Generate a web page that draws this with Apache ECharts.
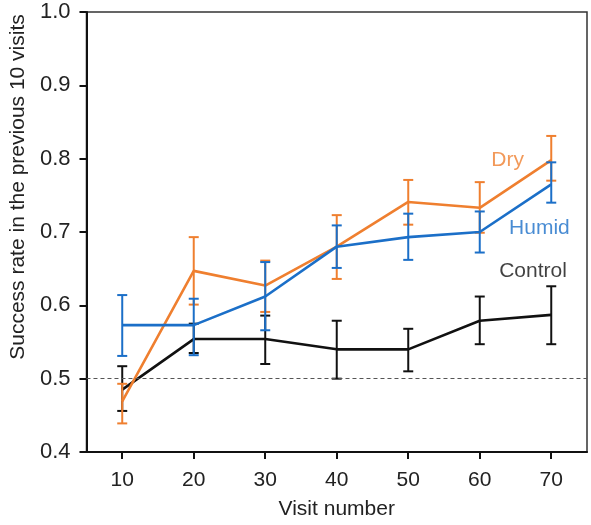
<!DOCTYPE html>
<html>
<head>
<meta charset="utf-8">
<script src="https://cdn.jsdelivr.net/npm/echarts@6/dist/echarts.min.js"></script>
<style>
html,body{margin:0;padding:0;background:#fff;}
#chart{width:591px;height:525px;}
</style>
</head>
<body>
<div id="chart"></div>
<script>
// ---- data ----
const visits = [10, 20, 30, 40, 50, 60, 70];
const controlMean = [0.485, 0.554, 0.554, 0.540, 0.540, 0.579, 0.587];
const controlLow  = [0.456, 0.535, 0.520, 0.500, 0.510, 0.547, 0.547];
const controlHigh = [0.517, 0.575, 0.586, 0.579, 0.568, 0.612, 0.626];
const dryMean = [0.469, 0.647, 0.627, 0.680, 0.741, 0.733, 0.798];
const dryLow  = [0.439, 0.601, 0.591, 0.636, 0.710, 0.699, 0.770];
const dryHigh = [0.493, 0.693, 0.661, 0.723, 0.771, 0.768, 0.831];
const humidMean = [0.573, 0.573, 0.612, 0.680, 0.693, 0.700, 0.765];
const humidLow  = [0.531, 0.532, 0.566, 0.651, 0.662, 0.672, 0.740];
const humidHigh = [0.614, 0.609, 0.659, 0.709, 0.725, 0.728, 0.795];
const yTicks = [0.4, 0.5, 0.6, 0.7, 0.8, 0.9, 1.0];
const chanceLevel = 0.5;
const labels = [
  {name: 'Dry', x: 63.9, y: 0.798},
  {name: 'Humid', x: 68.35, y: 0.705},
  {name: 'Control', x: 67.45, y: 0.647}
];

const cOrange = '#EF7F2F';
const cBlue = '#1B6FC8';
const cBlack = '#111111';
const FONT = 'Liberation Sans, Arial, sans-serif';

function pairs(xs, ys) { return xs.map((x, i) => [x, ys[i]]); }
function errData(xs, lo, hi) { return xs.map((x, i) => [x, lo[i], hi[i]]); }

function errSeries(name, xs, lo, hi, color, z) {
  return {
    name: name + ' err',
    type: 'custom',
    z: z,
    silent: true,
    data: errData(xs, lo, hi),
    encode: { x: 0, y: [1, 2] },
    renderItem: function (params, api) {
      const x = api.value(0);
      const pLo = api.coord([x, api.value(1)]);
      const pHi = api.coord([x, api.value(2)]);
      const hw = 5;
      const st = { stroke: color, lineWidth: 2, fill: null };
      return {
        type: 'group',
        children: [
          { type: 'line', shape: { x1: pLo[0], y1: pLo[1], x2: pHi[0], y2: pHi[1] }, style: st },
          { type: 'line', shape: { x1: pLo[0] - hw, y1: pLo[1], x2: pLo[0] + hw, y2: pLo[1] }, style: st },
          { type: 'line', shape: { x1: pHi[0] - hw, y1: pHi[1], x2: pHi[0] + hw, y2: pHi[1] }, style: st }
        ]
      };
    }
  };
}

function lineSeries(name, xs, ys, color, z) {
  return {
    name: name,
    type: 'line',
    z: z,
    data: pairs(xs, ys),
    symbol: 'none',
    lineStyle: { color: color, width: 2.6 },
    itemStyle: { color: color },
    silent: true,
    animation: false
  };
}

function labelSeries(lbl, color) {
  return {
    name: lbl.name + ' label',
    type: 'scatter',
    z: 5,
    silent: true,
    data: [[lbl.x, lbl.y]],
    symbolSize: 1,
    itemStyle: { color: 'rgba(0,0,0,0)' },
    label: {
      show: true, position: 'inside', formatter: lbl.name,
      color: color, fontSize: 21, fontFamily: FONT
    }
  };
}

const chart = echarts.init(document.getElementById('chart'), null, { renderer: 'canvas' });
chart.setOption({
  animation: false,
  backgroundColor: '#fff',
  grid: {
    left: 85, right: 4, top: 12, bottom: 71,
    show: true, borderColor: '#333', borderWidth: 1.5, backgroundColor: 'transparent'
  },
  xAxis: {
    type: 'value', min: 5, max: 75,
    name: 'Visit number', nameLocation: 'middle', nameGap: 47,
    nameTextStyle: { fontSize: 21, color: '#222', fontFamily: FONT },
    splitLine: { show: false },
    axisLine: { show: true, onZero: false, lineStyle: { color: '#111', width: 2 } },
    axisTick: { show: true, length: 7, lineStyle: { color: '#111', width: 2 }, customValues: visits },
    axisLabel: { fontSize: 21, color: '#222', fontFamily: FONT, margin: 18, customValues: visits }
  },
  yAxis: {
    type: 'value', min: 0.4, max: 1.0, interval: 0.1,
    name: 'Success rate in the previous 10 visits', nameLocation: 'middle', nameGap: 54,
    nameTextStyle: { fontSize: 21, color: '#222', fontFamily: FONT, padding: [0, 0, 0, 90] },
    splitLine: { show: false },
    axisLine: { show: true, lineStyle: { color: '#111', width: 2 } },
    axisTick: { show: true, length: 7, lineStyle: { color: '#111', width: 2 } },
    axisLabel: {
      fontSize: 22, color: '#222', fontFamily: FONT, margin: 16,
      customValues: yTicks,
      formatter: v => Number(v).toFixed(1)
    }
  },
  series: [
    {
      type: 'line', data: [], silent: true, z: 1,
      markLine: {
        silent: true, symbol: 'none', animation: false,
        label: { show: false },
        lineStyle: { type: [4, 3], color: '#555', width: 1 },
        data: [{ yAxis: chanceLevel }]
      }
    },
    lineSeries('Control', visits, controlMean, cBlack, 2),
    errSeries('Control', visits, controlLow, controlHigh, cBlack, 2),
    lineSeries('Dry', visits, dryMean, cOrange, 3),
    errSeries('Dry', visits, dryLow, dryHigh, cOrange, 3),
    lineSeries('Humid', visits, humidMean, cBlue, 4),
    errSeries('Humid', visits, humidLow, humidHigh, cBlue, 4),
    labelSeries(labels[0], cOrange),
    labelSeries(labels[1], cBlue),
    labelSeries(labels[2], cBlack)
  ]
});
</script>
</body>
</html>
